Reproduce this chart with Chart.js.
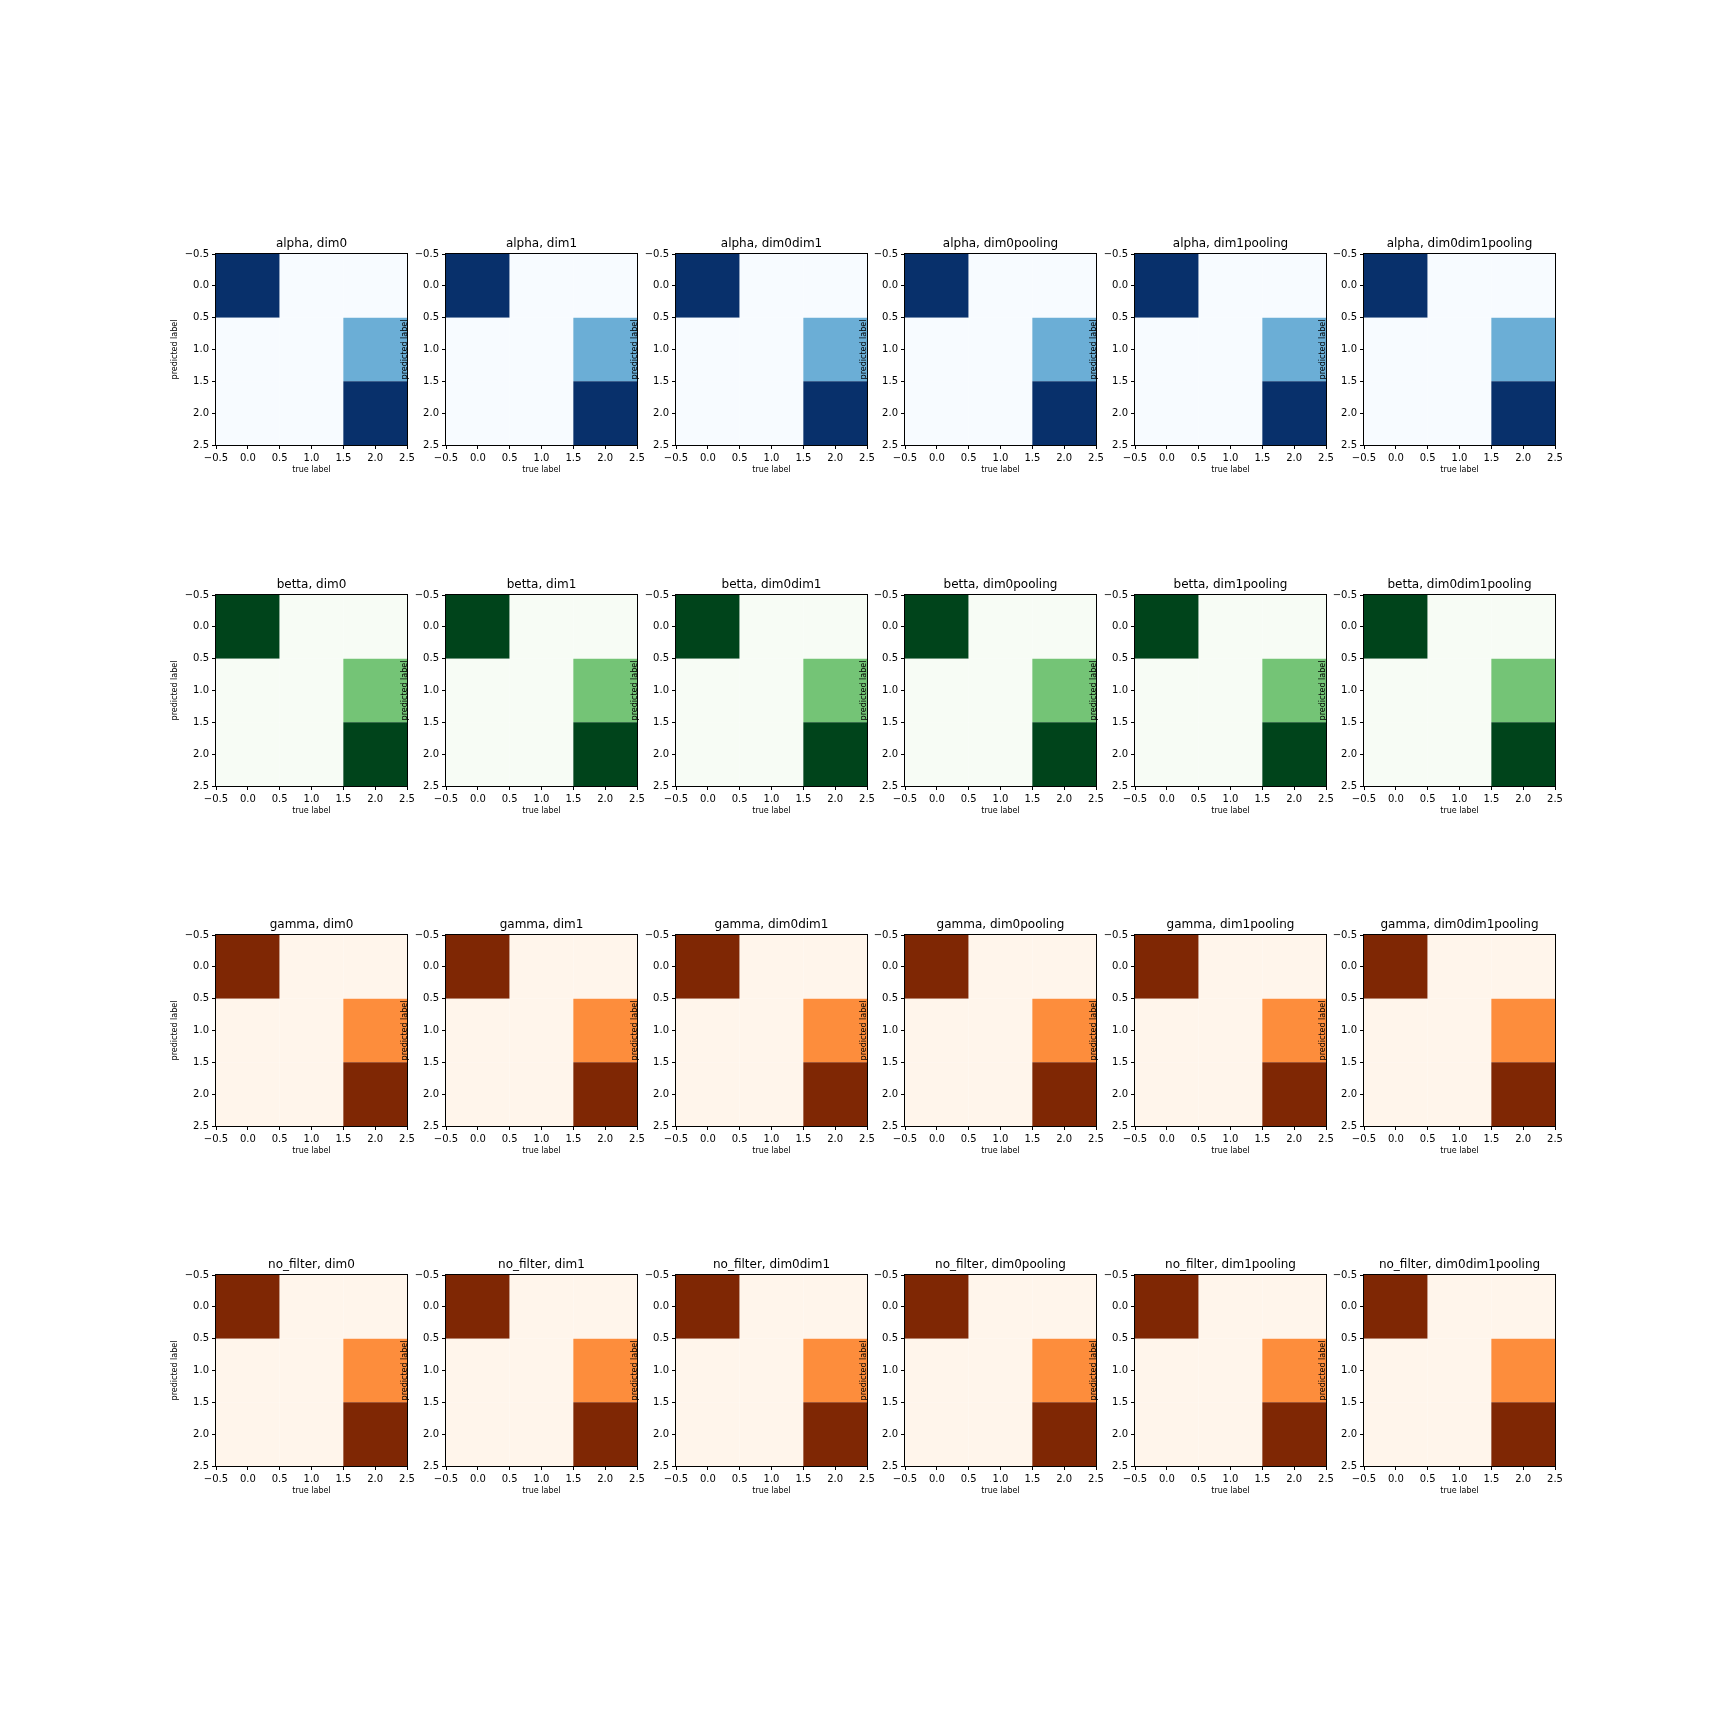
<!DOCTYPE html>
<html><head><meta charset="utf-8">
<script src="https://cdn.jsdelivr.net/npm/chart.js@4.4.1/dist/chart.umd.min.js"></script>
<style>
html,body{margin:0;padding:0;background:#fff;}
#fig{position:relative;width:1728px;height:1728px;background:#fff;overflow:hidden;}
#fig canvas{position:absolute;}
</style>
</head><body><div id="fig"></div>
<script>
// ---- data ----
const filterNames = ['alpha', 'betta', 'gamma', 'no_filter'];
const variantNames = ['dim0', 'dim1', 'dim0dim1', 'dim0pooling', 'dim1pooling', 'dim0dim1pooling'];
const filterColormaps = ['Blues', 'Greens', 'Oranges', 'Oranges'];
const trueLabels = [0, 1, 2];        // x (columns)
const predictedLabels = [0, 1, 2];   // y (rows)
// rows = predicted label, columns = true label (same matrix in every panel)
const confusionMatrix = [
  [2, 0, 0],
  [0, 0, 1],
  [0, 0, 2]
];
const tickValues = [-0.5, 0, 0.5, 1, 1.5, 2, 2.5];

// ---- styles ----
const CMAPS = {
  Blues:   ['#f7fbff','#deebf7','#c6dbef','#9ecae1','#6baed6','#4292c6','#2171b5','#08519c','#08306b'],
  Greens:  ['#f7fcf5','#e5f5e0','#c7e9c0','#a1d99b','#74c476','#41ab5d','#238b45','#006d2c','#00441b'],
  Oranges: ['#fff5eb','#fee6ce','#fdd0a2','#fdae6b','#fd8d3c','#f16913','#d94801','#a63603','#7f2704']
};
function hexToRgb(h){ return [parseInt(h.slice(1,3),16), parseInt(h.slice(3,5),16), parseInt(h.slice(5,7),16)]; }
function cmap(name, t){
  const stops = CMAPS[name];
  t = Math.max(0, Math.min(1, t));
  const p = t * (stops.length - 1);
  const i = Math.min(Math.floor(p), stops.length - 2);
  const f = p - i;
  const a = hexToRgb(stops[i]), b = hexToRgb(stops[i+1]);
  const c = a.map((v,k) => Math.round(v + (b[k]-v)*f));
  return `rgb(${c[0]},${c[1]},${c[2]})`;
}

const FONT = 'DejaVu Sans';
const PLOT_LEFT0 = 216.3, COL_PITCH = 229.6;
const PLOT_TOP0 = 254.3, ROW_PITCH = 340.25;
const S = 191;
const YW = 50, RW = 15, TH = 18, XH = 40;

const fmt = v => (v < 0 ? '\u2212' : '') + Math.abs(v).toFixed(1);

const framePlugin = {
  id: 'frame',
  afterDatasetsDraw(chart){
    const {ctx, chartArea: a} = chart;
    ctx.save();
    ctx.strokeStyle = '#000';
    ctx.lineWidth = 1;
    ctx.strokeRect(a.left - 0.5, a.top - 0.5, a.right - a.left + 1, a.bottom - a.top + 1);
    ctx.restore();
  }
};

const fig = document.getElementById('fig');
Chart.defaults.font.family = FONT;
Chart.defaults.color = '#000';

filterNames.forEach((filt, r) => {
  variantNames.forEach((variant, c) => {
    const L = Math.round(PLOT_LEFT0 + c * COL_PITCH);
    const T = Math.round(PLOT_TOP0 + r * ROW_PITCH);
    const canvas = document.createElement('canvas');
    const W = YW + S + RW, H = TH + S + XH;
    canvas.width = W; canvas.height = H;
    canvas.style.width = W + 'px'; canvas.style.height = H + 'px';
    canvas.style.left = (L - YW) + 'px';
    canvas.style.top = (T - TH) + 'px';
    fig.appendChild(canvas);

    let vmax = -Infinity, vmin = Infinity;
    confusionMatrix.forEach(row => row.forEach(v => { vmax = Math.max(vmax, v); vmin = Math.min(vmin, v); }));
    const points = [], colors = [];
    predictedLabels.forEach((pi, i) => {
      trueLabels.forEach((tj, j) => {
        points.push({x: tj, y: [pi - 0.5, pi + 0.5]});
        colors.push(cmap(filterColormaps[r], (confusionMatrix[i][j] - vmin) / (vmax - vmin)));
      });
    });

    const setTicks = scale => { scale.ticks = tickValues.map(v => ({value: v})); };

    new Chart(canvas, {
      type: 'bar',
      data: {
        datasets: [{
          data: points,
          backgroundColor: colors,
          borderWidth: 0,
          barPercentage: 1,
          // bar ruler uses the 0.5-spaced ticks, so a full cell is 2 tick gaps wide
          categoryPercentage: 2,
          grouped: false
        }]
      },
      options: {
        responsive: false,
        animation: false,
        devicePixelRatio: 1,
        layout: {padding: {left: 0, right: RW, top: 0, bottom: 0}},
        plugins: {
          legend: {display: false},
          tooltip: {enabled: false},
          title: {
            display: true,
            fullSize: false,
            text: filt + ', ' + variant,
            color: '#000',
            font: {family: FONT, size: 12, weight: 'normal', lineHeight: 1.2},
            padding: {top: 0.6, bottom: 3}
          }
        },
        scales: {
          x: {
            type: 'linear',
            min: -0.5, max: 2.5,
            offset: false,
            afterBuildTicks: setTicks,
            afterFit: s => { s.height = XH; },
            grid: {display: true, offset: false, drawOnChartArea: false, drawTicks: true, tickLength: 4, color: '#000', lineWidth: 1},
            border: {display: false},
            ticks: {callback: v => fmt(v), font: {family: FONT, size: 10}, color: '#000', padding: 3, maxRotation: 0, autoSkip: false},
            title: {display: true, text: 'true label', color: '#000', font: {family: FONT, size: 8, lineHeight: 1.2}, padding: {top: 0, bottom: 9.9}}
          },
          y: {
            type: 'linear',
            reverse: true,
            min: -0.5, max: 2.5,
            afterBuildTicks: setTicks,
            afterFit: s => { s.width = YW; },
            grid: {display: true, drawOnChartArea: false, drawTicks: true, tickLength: 4, color: '#000', lineWidth: 1},
            border: {display: false},
            ticks: {callback: v => fmt(v), font: {family: FONT, size: 10}, color: '#000', padding: 3, autoSkip: false},
            title: {display: true, text: 'predicted label', color: '#000', font: {family: FONT, size: 8, lineHeight: 1.2}, padding: {top: 4.2, bottom: 0}}
          }
        }
      },
      plugins: [framePlugin]
    });
  });
});
</script>
</body></html>
